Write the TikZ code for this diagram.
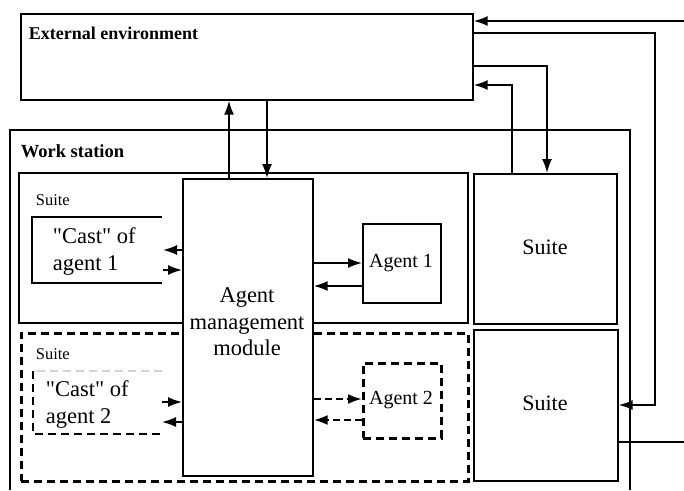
\documentclass[tikz,border=0pt]{standalone}
\usepackage{fontspec}
\setmainfont{Liberation Serif}
\usetikzlibrary{arrows.meta}

\begin{document}
\begin{tikzpicture}[x=1pt,y=-1pt,line width=1.7pt,
  box/.style={draw, rectangle, inner sep=0pt, anchor=north west, fill=white},
  dbox/.style={box, line width=2.6pt, dash pattern=on 8pt off 5pt},
  arr/.style={-{Latex[length=14pt,width=10pt]}, line width=1.7pt},
  darr/.style={arr, line width=2.4pt, dash pattern=on 7pt off 4pt},
  lbl/.style={inner sep=0pt, anchor=west, align=left},
  big/.style={font=\fontsize{22.5}{26.5}\selectfont},
  title/.style={lbl, font=\fontsize{18}{21}\selectfont\bfseries},
  small/.style={lbl, font=\fontsize{16.5}{19}\selectfont}]
\useasboundingbox (0,0) rectangle (684,490);

% external environment
\node[box, minimum width=452pt, minimum height=86pt] (ext) at (20,13) {};
\node[title] (extlbl) at (28,33) {External environment};

% work station frame (runs past the lower edge)
\coordinate (wsL) at (10,490);
\coordinate (wsR) at (630,490);
\draw (wsL) -- (10,130) -- (630,130) -- (wsR);
\node[title, font=\fontsize{18.5}{21}\selectfont\bfseries] (wslbl) at (20,151) {Work station};

% suite of agent 1
\node[box, minimum width=449pt, minimum height=150pt] (suiteA) at (18,172) {};
\node[small] (suiteAlbl) at (35,200) {Suite};
\coordinate (castAt) at (162,217);
\coordinate (castAb) at (162,283);
\draw (castAt) -- (32,217) -- (32,283) -- (castAb);
\node[lbl, big] (castA) at (52,251.5) {\textquotedbl Cast\textquotedbl{} of\\agent 1};
\node[box, minimum width=78pt, minimum height=79pt] (agentA) at (362,223) {};
\node[inner sep=0pt, font=\fontsize{20}{24}\selectfont] (agentAlbl) at (401,263) {Agent 1};

% suite of agent 2
\node[dbox, minimum width=447pt, minimum height=148pt] (suiteB) at (20,332) {};
\node[small] (suiteBlbl) at (35,354) {Suite};
\coordinate (castBt) at (162,371);
\coordinate (castBb) at (162,434);
\draw[gray!35, line width=2pt, dash pattern=on 8pt off 5pt] (castBt) -- (33,371);
\draw[line width=2.6pt, dash pattern=on 8pt off 5pt] (33,371) -- (33,434) -- (castBb);
\node[lbl, big] (castB) at (45,404.5) {\textquotedbl Cast\textquotedbl{} of\\agent 2};
\node[dbox, minimum width=78pt, minimum height=75pt] (agentB) at (362,362) {};
\node[inner sep=0pt, font=\fontsize{20}{24}\selectfont] (agentBlbl) at (401,400) {Agent 2};

% agent management module
\node[box, minimum width=130pt, minimum height=297pt] (mgmt) at (182,178) {};
\node[inner sep=0pt, align=center, big] (mgmtlbl) at (247,322) {Agent\\management\\module};

% further suites
\node[box, minimum width=143pt, minimum height=150pt] (suiteC) at (473,173) {};
\node[inner sep=0pt, font=\fontsize{22}{26}\selectfont] (suiteClbl) at (545,247) {Suite};
\node[box, minimum width=144pt, minimum height=151pt] (suiteD) at (473,329) {};
\node[inner sep=0pt, font=\fontsize{22}{26}\selectfont] (suiteDlbl) at (545,403) {Suite};

% links to the external environment
\coordinate (inTop) at (684,21);
\draw[arr] (inTop) -- (inTop -| ext.east);
\coordinate (k1) at (655,33);
\coordinate (k2) at (655,405);
\draw[arr] (ext.east |- k1) -- (k1) -- (k2) -- (suiteD.east |- k2);
\coordinate (k3) at (547,66);
\draw[arr] (ext.east |- k3) -- (k3) -- (k3 |- suiteC.north);
\coordinate (k4) at (512,85);
\draw[arr] (k4 |- suiteC.north) -- (k4) -- (ext.east |- k4);
\coordinate (k5) at (229,0);
\draw[arr] (k5 |- mgmt.north) -- (k5 |- ext.south);
\coordinate (k6) at (267,0);
\draw[arr] (k6 |- ext.south) -- (k6 |- mgmt.north);
\coordinate (outD) at (684,442);
\draw (suiteD.east |- outD) -- (outD);

% module <-> casts and agents
\coordinate (c1a) at (163,250);
\coordinate (c1b) at (163,270);
\draw[arr] (mgmt.west |- c1a) -- (c1a);
\draw[arr] (c1b) -- (mgmt.west |- c1b);
\coordinate (a1a) at (0,263);
\coordinate (a1b) at (0,286);
\draw[arr] (mgmt.east |- a1a) -- (agentA.west |- a1a);
\draw[arr] (agentA.west |- a1b) -- (mgmt.east |- a1b);
\coordinate (c2a) at (162,402);
\coordinate (c2b) at (162,422);
\draw[arr] (c2a) -- (mgmt.west |- c2a);
\draw[arr] (mgmt.west |- c2b) -- (c2b);
\coordinate (a2a) at (0,399);
\coordinate (a2b) at (0,420);
\draw[darr] (mgmt.east |- a2a) -- (agentB.west |- a2a);
\draw[darr] (agentB.west |- a2b) -- (mgmt.east |- a2b);
\end{tikzpicture}
\end{document}
